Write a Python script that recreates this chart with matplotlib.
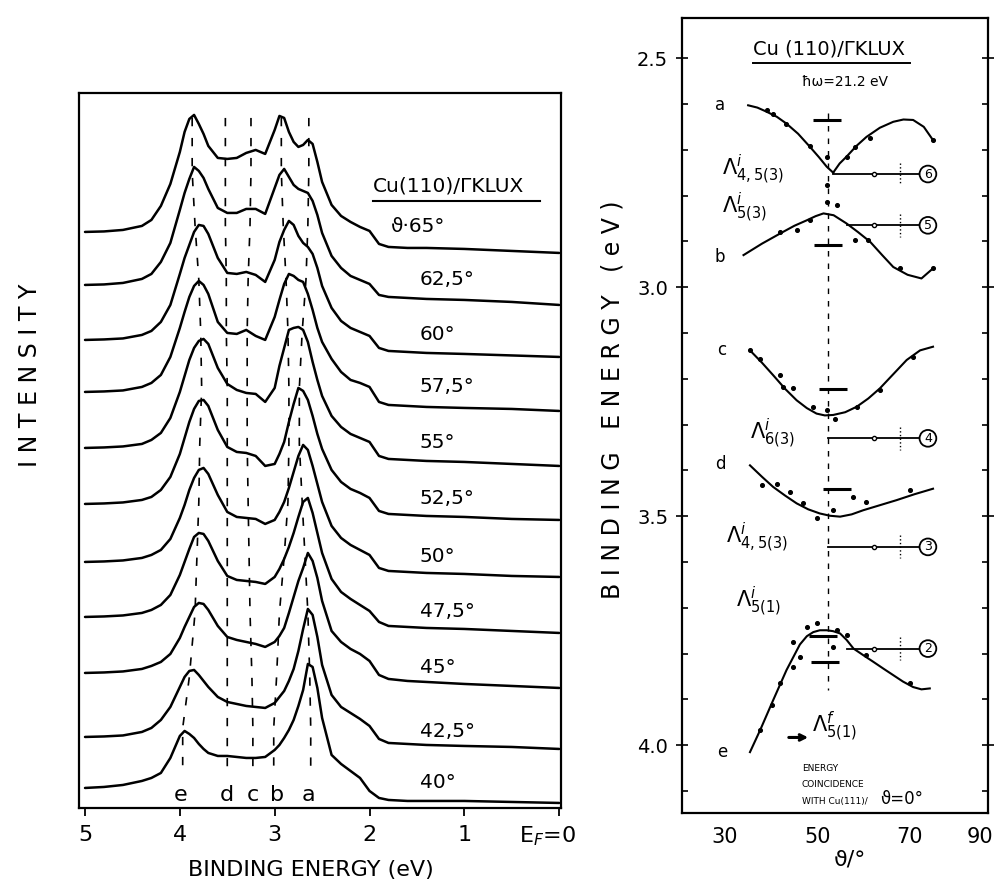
import matplotlib.pyplot as plt
import numpy as np
from matplotlib.transforms import ScaledTranslation

plt.rcParams['font.family'] = ['DejaVu Sans']
plt.rcParams['mathtext.fontset'] = 'dejavusans'

# ---- left panel: photoemission spectra, Cu(110) ----
energy = [5.0, 4.8, 4.6, 4.4, 4.3, 4.2, 4.1, 4.0, 3.95, 3.9, 3.85, 3.8, 3.75, 3.7, 3.6, 3.5,
          3.4, 3.3, 3.2, 3.1, 3.0, 2.95, 2.9, 2.85, 2.8, 2.75, 2.7, 2.65, 2.6, 2.55, 2.5,
          2.4, 2.3, 2.2, 2.1, 2.0, 1.9, 1.8, 1.6, 1.4, 1.0, 0.5, 0.0]
angle_labels = ['ϑ·65°', '62,5°', '60°', '57,5°', '55°', '52,5°', '50°', '47,5°', '45°', '42,5°', '40°']
offsets = [576, 523, 468, 416, 360, 304, 246, 191, 135, 71, 20]
spectra = [
    [0, 0.5, 2, 6, 12, 26, 48, 80, 100, 113, 117, 108, 98, 86, 74, 73, 74, 79, 82, 78,
     102, 116, 114, 100, 90, 85, 87, 92, 88, 70, 50, 27, 16, 10, 5, 1, -12, -15, -16, -16, -17, -19, -21],
    [0, 0.5, 2, 6, 11, 23, 42, 75, 92, 106, 118, 114, 107, 96, 77, 72, 72, 76, 76, 71,
     97, 110, 116, 108, 100, 96, 94, 92, 84, 70, 52, 29, 17, 9, 5, 1, -10, -12, -13, -14, -15, -17, -20],
    [0, 0.5, 1.5, 5, 9, 18, 35, 66, 82, 95, 108, 115, 114, 106, 82, 67, 66, 68, 65, 58,
     80, 98, 110, 119, 115, 104, 97, 93, 86, 72, 54, 32, 19, 12, 8, 4, -8, -11, -12, -13, -14, -15.5, -17],
    [0, 0.5, 1.5, 5, 9, 17, 35, 64, 80, 95, 106, 111, 107, 98, 70, 59, 58, 62, 56, 52,
     75, 92, 108, 118, 116, 112, 110, 98, 82, 64, 50, 33, 20, 12, 9, 5, -10, -13, -14, -15, -16, -17, -19],
    [0, 0.5, 1.5, 4, 8, 15, 30, 56, 72, 88, 100, 107, 109, 104, 80, 64, 58, 55, 54, 46,
     60, 82, 100, 118, 120, 121, 118, 106, 86, 68, 52, 32, 21, 14, 10, 6, -8, -11, -12, -13, -14, -16, -18],
    [0, 0.5, 1.5, 4, 7, 14, 27, 50, 66, 82, 95, 103, 104, 98, 74, 57, 52, 51, 48, 38,
     40, 50, 62, 82, 100, 116, 113, 104, 88, 70, 55, 34, 22, 15, 11, 6, -7, -10, -11, -12, -13, -15, -16],
    [0, 0.5, 1.5, 4, 7, 12, 23, 44, 57, 72, 84, 92, 94, 88, 67, 50, 45, 44, 43, 38,
     42, 50, 60, 74, 90, 106, 117, 112, 96, 78, 60, 36, 24, 17, 12, 7, -6, -9, -10, -11, -12, -14, -15],
    [0, 0.5, 1.5, 4, 7, 12, 22, 42, 55, 68, 80, 84, 83, 76, 56, 41, 37, 36, 35, 33,
     40, 48, 58, 70, 84, 100, 115, 119, 104, 84, 64, 38, 25, 18, 12, 6, -5, -9, -10, -11, -12, -14, -16],
    [0, 0.5, 1.5, 4, 7, 11, 19, 35, 46, 56, 66, 70, 69, 63, 47, 36, 33, 31, 29, 26,
     31, 37, 45, 60, 76, 92, 105, 120, 112, 95, 72, 42, 31, 24, 19, 12, -2, -6, -8, -9, -11, -13, -15],
    [0, 0.5, 1.5, 5, 9, 17, 30, 50, 60, 66, 67, 62, 56, 50, 40, 35, 33, 31, 30, 29,
     34, 40, 46, 56, 68, 86, 108, 128, 122, 100, 72, 42, 30, 24, 18, 11, -2, -6, -7, -8, -9, -10, -12],
    [0, 1, 3, 7, 10, 15, 30, 52, 57, 54, 50, 44, 39, 35, 32, 32, 31, 30, 30, 31,
     38, 43, 50, 58, 68, 82, 98, 124, 121, 100, 70, 33, 24, 17, 10, -3, -10, -12, -13, -13, -13, -14, -15],
]
# peak positions (eV) for each spectrum, top to bottom
peak_names = ['e', 'd', 'c', 'b', 'a']
peak_pos = {
    'e': [3.87, 3.84, 3.80, 3.78, 3.77, 3.79, 3.80, 3.82, 3.84, 3.90, 3.97],
    'd': [3.52, 3.52, 3.51, 3.51, 3.50, 3.50, 3.50, 3.50, 3.50, 3.50, 3.50],
    'c': [3.25, 3.26, 3.28, 3.29, 3.29, 3.29, 3.28, 3.27, 3.26, 3.24, 3.23],
    'b': [2.93, 2.91, 2.88, 2.86, 2.85, 2.85, 2.86, 2.90, 2.95, 2.98, 3.01],
    'a': [2.64, 2.65, 2.67, 2.71, 2.74, 2.74, 2.71, 2.68, 2.65, 2.63, 2.62],
}
peak_label_pos = [3.99, 3.50, 3.23, 2.97, 2.64]

# ---- right panel: binding energy vs polar angle ----
a_left_deg = [35.0, 37.0, 39.0, 41.2, 43.3, 45.8, 48.4, 50.3, 52.0, 53.4]
a_left_E = [2.603, 2.608, 2.617, 2.628, 2.643, 2.665, 2.694, 2.716, 2.737, 2.750]
a_right_deg = [53.4, 54.8, 56.3, 58.4, 60.6, 63.5, 66.4, 68.6, 70.7, 73.0, 75.0]
a_right_E = [2.750, 2.730, 2.715, 2.692, 2.672, 2.652, 2.639, 2.634, 2.635, 2.650, 2.679]
b_deg = [34.0, 38.0, 41.9, 45.0, 47.7, 49.6, 51.3, 53.5, 56.3, 58.8, 61.4, 64.0, 66.4, 69.5, 72.5, 75.0]
b_E = [2.930, 2.905, 2.883, 2.866, 2.854, 2.845, 2.839, 2.843, 2.861, 2.880, 2.901, 2.930, 2.956, 2.973, 2.981, 2.959]
c_deg = [35.4, 38.0, 40.4, 43.0, 45.5, 47.7, 49.8, 51.6, 53.4, 56.0, 58.5, 61.0, 63.5, 66.4, 69.3, 72.2, 75.0]
c_E = [3.138, 3.165, 3.192, 3.222, 3.247, 3.264, 3.276, 3.280, 3.279, 3.273, 3.261, 3.243, 3.221, 3.190, 3.159, 3.138, 3.130]
d_deg = [35.4, 38.0, 40.4, 43.0, 45.5, 48.0, 50.5, 52.7, 54.9, 57.4, 59.9, 63.5, 67.1, 71.0, 75.0]
d_E = [3.389, 3.414, 3.436, 3.455, 3.472, 3.485, 3.494, 3.499, 3.501, 3.496, 3.487, 3.476, 3.465, 3.452, 3.440]
e_deg = [35.4, 37.6, 40.4, 43.3, 46.2, 47.7, 49.1, 50.5, 52.0, 53.4, 54.9, 56.3, 57.8, 60.0, 62.1, 64.3, 66.4, 68.5, 70.7, 72.5, 74.3]
e_E = [4.015, 3.967, 3.902, 3.836, 3.780, 3.762, 3.753, 3.749, 3.749, 3.751, 3.756, 3.770, 3.789, 3.804, 3.818, 3.833, 3.847, 3.861, 3.873, 3.878, 3.876]

dots_deg = [39.0, 40.4, 43.3, 48.4, 52.0, 52.0, 56.3, 58.1, 61.4, 75.0,
            41.9, 45.5, 48.4, 52.0, 54.2, 58.1, 61.0, 67.8, 75.0,
            35.4, 37.6, 41.9, 42.6, 44.8, 49.1, 52.0, 53.8, 58.5, 63.5, 70.7,
            37.9, 41.2, 44.1, 46.9, 49.8, 53.4, 57.7, 60.6, 70.0,
            37.6, 40.1, 41.9, 44.8, 46.2, 44.8, 47.7, 49.8, 54.2, 53.4, 56.3, 60.6, 70.0]
dots_E = [2.614, 2.622, 2.643, 2.692, 2.715, 2.777, 2.715, 2.694, 2.675, 2.679,
          2.879, 2.876, 2.854, 2.814, 2.821, 2.897, 2.897, 2.959, 2.959,
          3.138, 3.156, 3.192, 3.218, 3.221, 3.261, 3.269, 3.287, 3.261, 3.225, 3.152,
          3.432, 3.429, 3.447, 3.472, 3.505, 3.487, 3.458, 3.469, 3.443,
          3.967, 3.913, 3.865, 3.829, 3.807, 3.774, 3.742, 3.734, 3.749, 3.785, 3.760, 3.803, 3.865]

lam_E = [2.753, 2.865, 3.330, 3.567, 3.789]
lam_start = [53.4, 56.3, 52.3, 52.3, 56.3]
lam_circle = ['6', '5', '4', '3', '2']
bar_deg = [52.0, 52.3, 53.4, 54.2, 51.3, 51.6]
bar_E = [2.635, 2.908, 3.223, 3.441, 3.762, 3.819]

fig = plt.figure(figsize=(9.98, 8.91), dpi=100)
ax1 = fig.add_axes([0.0792, 0.0932, 0.483, 0.8025])
ax2 = fig.add_axes([0.6834, 0.0875, 0.3066, 0.892])

# left panel
for off, h in zip(offsets, spectra):
    ax1.plot(energy, np.array(h) + off, color='black', lw=1.8,
             solid_joinstyle='round', solid_capstyle='round')

for name in peak_names:
    xs = [peak_pos[name][0]] + peak_pos[name] + [peak_pos[name][-1]]
    ys = [690] + [o + 60 for o in offsets] + [33]
    ax1.plot(xs, ys, color='black', lw=1.2, linestyle=(0, (5, 7)))

for name, x in zip(peak_names, peak_label_pos):
    ax1.text(x, 13, name, ha='center', va='center', fontsize=16)

for i, (off, lab) in enumerate(zip(offsets, angle_labels)):
    ax1.text(1.78 if i == 0 else 1.47, off + 5, lab, ha='left', va='center', fontsize=14.5)

ax1.text(1.96, 622, 'Cu(110)/ΓKLUX', ha='left', va='center', fontsize=14.5)
ax1.plot([1.96, 0.2], [607, 607], color='black', lw=1.5)

ax1.set_xlim(5.063, -0.02)
ax1.set_ylim(0, 715)
ax1.set_yticks([])
ax1.set_xticks([5, 4, 3, 2, 1, 0])
ax1.set_xticklabels(['5', '4', '3', '2', '1', 'E$_F$=0'])
ax1.tick_params(axis='x', direction='out', length=6, width=1.3, labelsize=16, pad=6)
lab0 = ax1.get_xticklabels()[-1]
lab0.set_ha('right')
lab0.set_transform(lab0.get_transform() + ScaledTranslation(12 / 72, 0, fig.dpi_scale_trans))
for s in ax1.spines.values():
    s.set_linewidth(1.6)

fig.text(0.030, 0.579, 'I N T E N S I T Y', rotation=90, ha='center', va='center', fontsize=17)
fig.text(0.311, 0.024, 'BINDING ENERGY (eV)', ha='center', va='center', fontsize=16)

# right panel
kw = dict(color='black', lw=1.5)
ax2.plot(a_left_deg, a_left_E, **kw)
ax2.plot(a_right_deg, a_right_E, **kw)
ax2.plot(b_deg, b_E, **kw)
ax2.plot(c_deg, c_E, **kw)
ax2.plot(d_deg, d_E, **kw)
ax2.plot(e_deg, e_E, **kw)
ax2.scatter(dots_deg, dots_E, s=7, color='black', zorder=3)

ax2.plot([52.2, 52.2], [2.62, 3.88], color='black', lw=1.0, linestyle=(0, (4, 5)))
ax2.plot(bar_deg, bar_E, linestyle='none', marker='_', ms=20, mew=2.2, color='black')

for E, x0, lab in zip(lam_E, lam_start, lam_circle):
    ax2.plot([x0, 73.9], [E, E], color='black', lw=1.3)
    ax2.plot([62.3], [E], marker='o', ms=3, mfc='white', mec='black', mew=1)
    ax2.plot([67.8, 67.8], [E - 0.025, E + 0.025], color='black', lw=1, linestyle=':')
    ax2.text(73.9, E, lab, ha='center', va='center', fontsize=9, zorder=5,
             bbox=dict(boxstyle='circle,pad=0.15', fc='white', ec='black', lw=1.3))

for lab, x, E in [('a', 28.9, 2.603), ('b', 28.9, 2.934), ('c', 29.3, 3.138),
                  ('d', 28.9, 3.385), ('e', 29.3, 4.015)]:
    ax2.text(x, E, lab, ha='center', va='center', fontsize=12)

ax2.text(29.4, 2.745, r'$\Lambda^{i}_{4,5(3)}$', ha='left', va='center', fontsize=15)
ax2.text(29.4, 2.828, r'$\Lambda^{i}_{5(3)}$', ha='left', va='center', fontsize=15)
ax2.text(35.5, 3.320, r'$\Lambda^{i}_{6(3)}$', ha='left', va='center', fontsize=15)
ax2.text(30.2, 3.548, r'$\Lambda^{i}_{4,5(3)}$', ha='left', va='center', fontsize=15)
ax2.text(32.3, 3.688, r'$\Lambda^{i}_{5(1)}$', ha='left', va='center', fontsize=15)
ax2.text(48.8, 3.960, r'$\Lambda^{f}_{5(1)}$', ha='left', va='center', fontsize=15)
ax2.annotate('', xy=(48.6, 3.983), xytext=(43.2, 3.983),
             arrowprops=dict(arrowstyle='->', lw=2.2, color='black'))

ax2.text(36.1, 2.481, 'Cu (110)/ΓKLUX', ha='left', va='center', fontsize=14)
ax2.plot([36.1, 70.0], [2.510, 2.510], color='black', lw=1.4)
ax2.text(56.0, 2.552, 'ħω=21.2 eV', ha='center', va='center', fontsize=10)

ax2.text(46.6, 4.050, 'ENERGY', ha='left', va='center', fontsize=6.5)
ax2.text(46.6, 4.085, 'COINCIDENCE', ha='left', va='center', fontsize=6.5)
ax2.text(46.6, 4.122, 'WITH Cu(111)/', ha='left', va='center', fontsize=6.5)
ax2.text(63.5, 4.118, 'ϑ=0°', ha='left', va='center', fontsize=12)

ax2.set_xlim(20.7, 86.9)
ax2.set_ylim(4.148, 2.413)
ax2.set_xticks([30, 50, 70])
ax2.set_yticks([2.5, 3.0, 3.5, 4.0])
ax2.set_yticklabels(['2.5', '3.0', '3.5', '4.0'])
ax2.set_yticks(np.arange(2.5, 4.15, 0.1), minor=True)
ax2.tick_params(axis='y', which='major', direction='inout', length=8, width=1.2,
                labelsize=14, right=True, pad=6)
ax2.tick_params(axis='y', which='minor', direction='in', length=4, width=1.2, right=True)
ax2.tick_params(axis='x', which='major', length=0, labelsize=15, pad=10)
ax2.annotate('90', xy=(0.972, 0), xycoords='axes fraction', xytext=(0, -10),
             textcoords='offset points', ha='center', va='top', fontsize=15)
for s in ax2.spines.values():
    s.set_linewidth(1.6)

fig.text(0.614, 0.551, 'B I N D I N G   E N E R G Y   ( e V )', rotation=90,
         ha='center', va='center', fontsize=17)
fig.text(0.852, 0.035, 'ϑ/°', ha='center', va='center', fontsize=16)

fig.savefig('out.png', dpi=100)
